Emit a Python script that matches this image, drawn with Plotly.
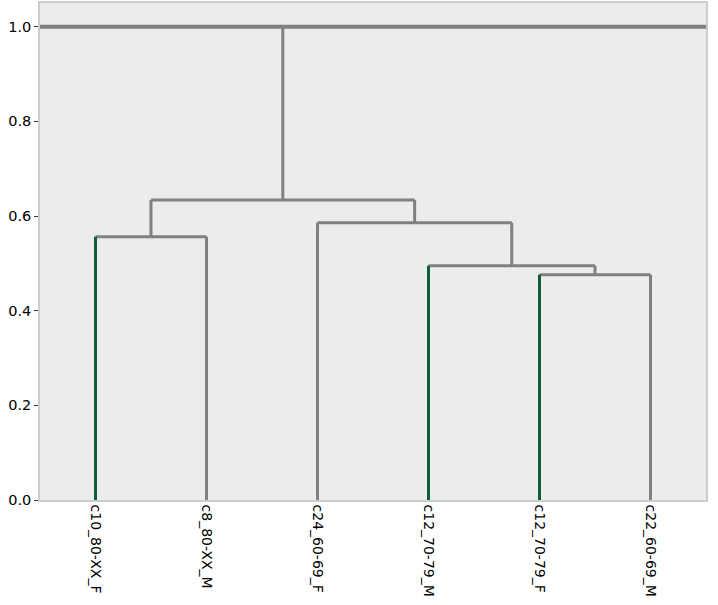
import plotly.graph_objects as go

labels = ["c10_80-XX_F", "c8_80-XX_M", "c24_60-69_F", "c12_70-79_M", "c12_70-79_F", "c22_60-69_M"]
leaf_green = [True, False, False, True, True, False]
# linkage: (left child, right child, height); leaves are 0..5, new nodes 6..
merge_left = [0, 4, 3, 2, 6]
merge_right = [1, 5, 7, 8, 9]
merge_height = [0.556, 0.476, 0.495, 0.586, 0.634]
root_height = 1.0

GREY = "#808080"
GREEN = "#0b5e35"

n = len(labels)
pos = {i: 5 + 10 * i for i in range(n)}
hgt = {i: 0.0 for i in range(n)}

gx, gy, ex, ey = [], [], [], []

def seg(xs, ys, green):
    if green:
        ex.extend(xs + [None]); ey.extend(ys + [None])
    else:
        gx.extend(xs + [None]); gy.extend(ys + [None])

for k, (a, b, h) in enumerate(zip(merge_left, merge_right, merge_height)):
    node = n + k
    for c in (a, b):
        seg([pos[c], pos[c]], [hgt[c], h], c < n and leaf_green[c])
    seg([pos[a], pos[b]], [h, h], False)
    pos[node] = (pos[a] + pos[b]) / 2
    hgt[node] = h

top = n + len(merge_height) - 1
seg([pos[top], pos[top]], [hgt[top], root_height], False)

fig = go.Figure()
fig.add_trace(go.Scatter(x=gx, y=gy, mode="lines", line=dict(color=GREY, width=3),
                         hoverinfo="skip", showlegend=False))
fig.add_trace(go.Scatter(x=[0, 10 * n], y=[root_height, root_height], mode="lines",
                         line=dict(color=GREY, width=4), hoverinfo="skip", showlegend=False))
fig.add_trace(go.Scatter(x=ex, y=ey, mode="lines", line=dict(color=GREEN, width=3),
                         hoverinfo="skip", showlegend=False))

fig.update_layout(
    width=718, height=605,
    margin=dict(l=40, r=12, t=3, b=105),
    paper_bgcolor="white", plot_bgcolor="#ececec",
    font=dict(family="DejaVu Sans", size=14, color="black"),
)
fig.update_xaxes(range=[0, 10 * n], tickvals=[5 + 10 * i for i in range(n)], ticktext=labels,
                 tickangle=90, ticks="", showgrid=False, zeroline=False, automargin=False,
                 showline=True, mirror=True, linecolor="#cccccc", linewidth=1.5,
                 tickfont=dict(size=14))
fig.update_yaxes(range=[0, 1.05], tickvals=[0, 0.2, 0.4, 0.6, 0.8, 1.0], tickformat=".1f",
                 ticks="outside", ticklen=4, tickcolor="#333333", showgrid=False, zeroline=False,
                 automargin=False, showline=True, mirror=True, linecolor="#cccccc", linewidth=1.5,
                 tickfont=dict(size=14.5))

fig.write_html("out.html", config={"displayModeBar": False},
               post_script="document.body.style.margin='0';document.body.style.overflow='hidden';")
